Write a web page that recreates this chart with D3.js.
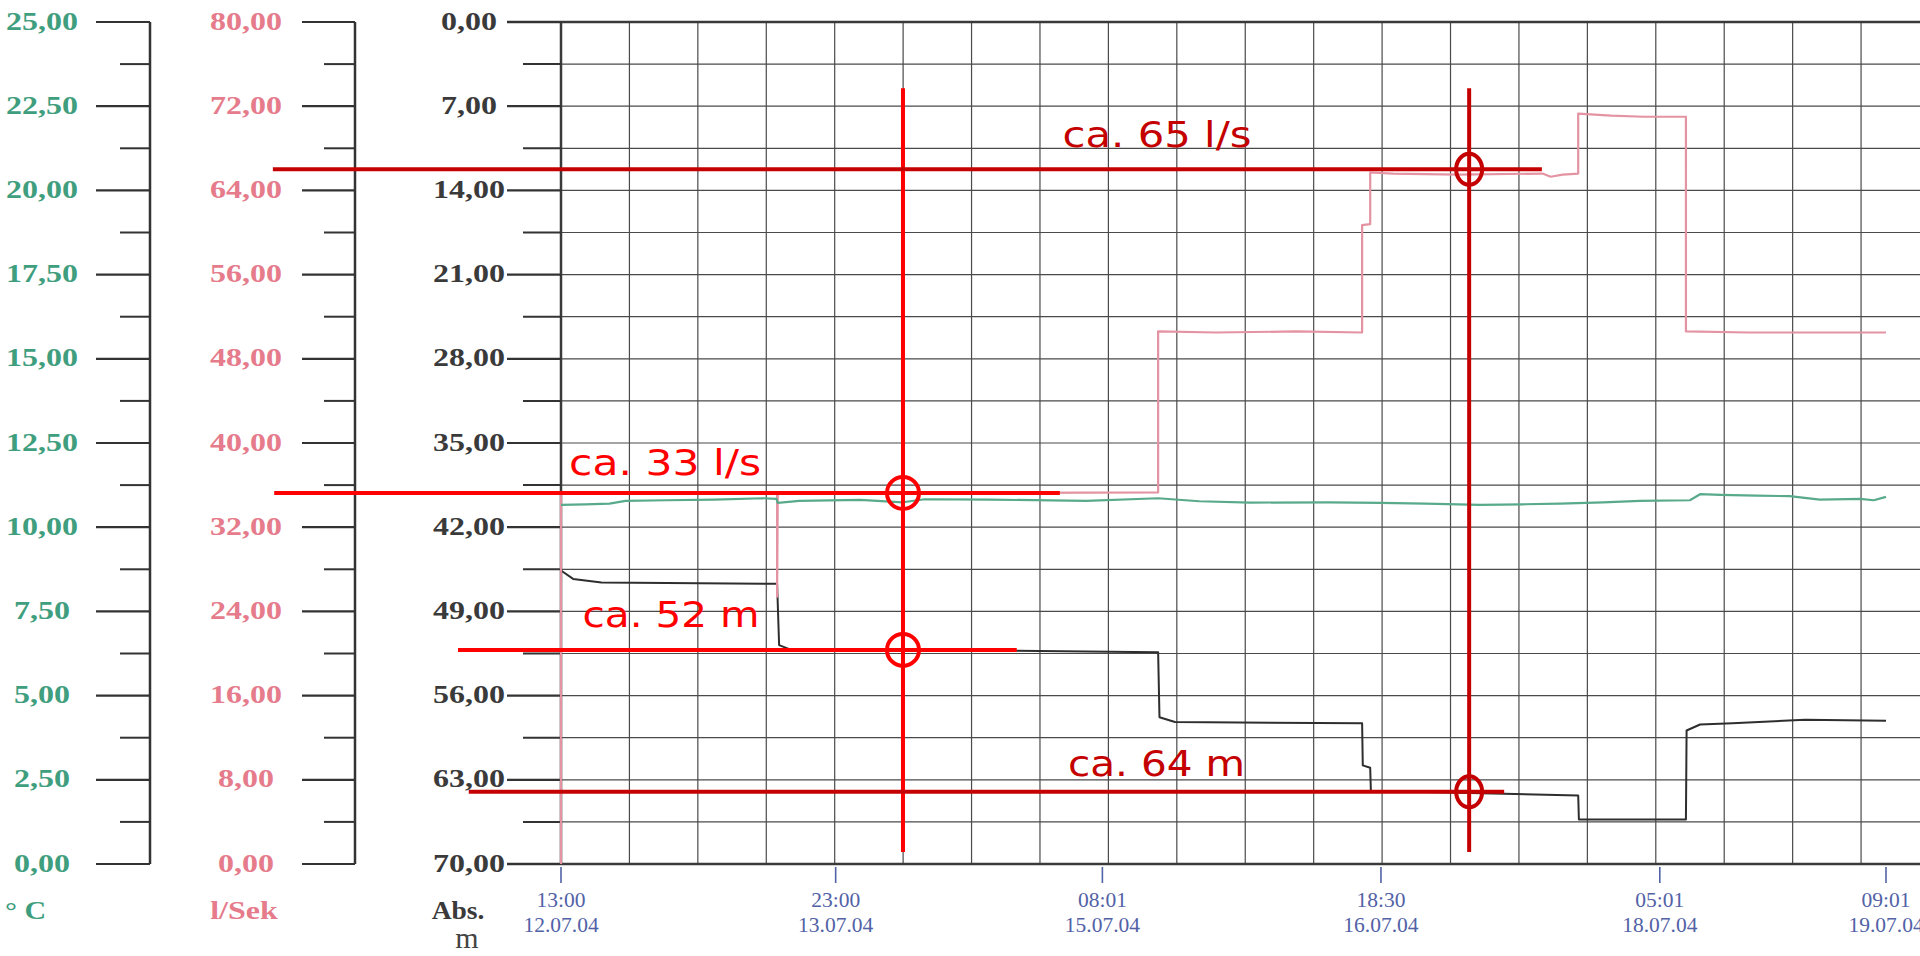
<!DOCTYPE html>
<html>
<head>
<meta charset="utf-8">
<script src="https://cdn.jsdelivr.net/npm/d3@7"></script>
<style>
  body { margin: 0; background: #fff; }
  svg { display: block; }
</style>
</head>
<body>
<svg id="chart" width="1920" height="956"></svg>
<script>
// Achsen-Beschriftung
const levelTicks = [0, 7, 14, 21, 28, 35, 42, 49, 56, 63, 70];          // Abs. m
const flowTicks = [0, 8, 16, 24, 32, 40, 48, 56, 64, 72, 80];           // l/Sek
const tempTicks = [0, 2.5, 5, 7.5, 10, 12.5, 15, 17.5, 20, 22.5, 25];   // °C
const timeTicks = ["12.07.04 13:00", "13.07.04 23:00", "15.07.04 08:01",
                   "16.07.04 18:30", "18.07.04 05:01", "19.07.04 09:01"];

// Temperatur (°C), gruen
const tempSeries = [
  ["12.07.04 13:00", 10.66], ["12.07.04 16:00", 10.68], ["12.07.04 19:00", 10.70],
  ["12.07.04 21:00", 10.78], ["13.07.04 02:00", 10.80], ["13.07.04 08:00", 10.82],
  ["13.07.04 14:00", 10.86], ["13.07.04 15:40", 10.84], ["13.07.04 15:50", 10.72],
  ["13.07.04 18:30", 10.78], ["14.07.04 02:00", 10.81], ["14.07.04 07:20", 10.74],
  ["14.07.04 10:00", 10.83], ["14.07.04 18:00", 10.82], ["15.07.04 06:00", 10.78],
  ["15.07.04 14:55", 10.86], ["15.07.04 20:00", 10.77], ["16.07.04 02:20", 10.73],
  ["16.07.04 12:00", 10.74], ["16.07.04 18:25", 10.72], ["17.07.04 00:00", 10.70],
  ["17.07.04 06:45", 10.66], ["17.07.04 12:00", 10.68], ["17.07.04 16:40", 10.70],
  ["17.07.04 22:00", 10.74], ["18.07.04 02:35", 10.78], ["18.07.04 08:45", 10.80],
  ["18.07.04 10:00", 10.98], ["18.07.04 12:30", 10.96], ["18.07.04 17:00", 10.94],
  ["18.07.04 21:05", 10.92], ["19.07.04 00:50", 10.82], ["19.07.04 05:50", 10.84],
  ["19.07.04 07:30", 10.80], ["19.07.04 09:01", 10.90]
];

// Durchfluss (l/s), rosa
const flowSeries = [
  ["12.07.04 13:00", 0], ["12.07.04 13:00", 35.2], ["13.07.04 15:45", 35.2],
  ["13.07.04 15:45", 25.4], ["13.07.04 15:50", 35.2], ["15.07.04 14:55", 35.3],
  ["15.07.04 14:55", 50.6], ["15.07.04 22:00", 50.5], ["16.07.04 08:00", 50.6],
  ["16.07.04 16:10", 50.5], ["16.07.04 16:10", 60.7], ["16.07.04 17:10", 60.8],
  ["16.07.04 17:10", 65.7], ["16.07.04 20:00", 65.6], ["17.07.04 04:00", 65.5],
  ["17.07.04 14:30", 65.6], ["17.07.04 15:30", 65.3], ["17.07.04 17:00", 65.5],
  ["17.07.04 18:55", 65.6], ["17.07.04 18:55", 71.3], ["17.07.04 23:00", 71.1],
  ["18.07.04 03:00", 71.0], ["18.07.04 08:15", 71.0], ["18.07.04 08:15", 50.6],
  ["18.07.04 16:00", 50.5], ["19.07.04 09:01", 50.5]
];

// Wasserspiegel (m unter Gelaende), schwarz
const levelSeries = [
  ["12.07.04 13:00", 45.6], ["12.07.04 14:30", 46.3], ["12.07.04 18:00", 46.6],
  ["13.07.04 15:45", 46.7], ["13.07.04 16:00", 51.8], ["13.07.04 17:30", 52.2],
  ["14.07.04 12:00", 52.2], ["15.07.04 14:55", 52.4], ["15.07.04 15:05", 57.8],
  ["15.07.04 17:00", 58.2], ["16.07.04 16:10", 58.3], ["16.07.04 16:15", 61.8],
  ["16.07.04 17:10", 62.0], ["16.07.04 17:15", 63.9], ["17.07.04 18:55", 64.3],
  ["17.07.04 19:00", 66.3], ["18.07.04 08:15", 66.3], ["18.07.04 08:20", 58.9],
  ["18.07.04 10:00", 58.4], ["18.07.04 14:00", 58.3], ["18.07.04 23:00", 58.0],
  ["19.07.04 09:01", 58.1]
];

// Ablesehilfen (rot)
const crossTimes = [
  { time: "14.07.04 07:20", from: 5.5, to: 69.0, tone: "bright" },
  { time: "17.07.04 05:25", from: 5.5, to: 69.0, tone: "dark" }
];
const readings = [
  { label: "ca. 65 l/s", axis: "flow", value: 66.0, from: "11.07.04 01:20", to: "17.07.04 14:25",
    at: "17.07.04 05:25", textTime: "15.07.04 03:05", textValue: 68.1, tone: "dark" },
  { label: "ca. 33 l/s", axis: "flow", value: 35.25, from: "11.07.04 01:30", to: "15.07.04 02:45",
    at: "14.07.04 07:20", textTime: "12.07.04 14:00", textValue: 36.96, tone: "bright" },
  { label: "ca. 52 m", axis: "level", value: 52.2, from: "12.07.04 00:15", to: "14.07.04 21:25",
    at: "14.07.04 07:20", textTime: "12.07.04 15:40", textValue: 50.3, tone: "bright" },
  { label: "ca. 64 m", axis: "level", value: 64.0, from: "12.07.04 01:35", to: "17.07.04 09:45",
    at: "17.07.04 05:25", textTime: "15.07.04 03:45", textValue: 62.7, tone: "dark" }
];

const tones = { bright: "#ff0000", dark: "#c40000" };
const textWidths = { "ca. 65 l/s": 189, "ca. 33 l/s": 192, "ca. 52 m": 177, "ca. 64 m": 177 };
const green = "#3f9e7e", pink = "#e57b8b", ink = "#333";
const gridHours = 8.47;

const parse = d3.timeParse("%d.%m.%y %H:%M");
const de = d3.formatLocale({ decimal: ",", thousands: ".", grouping: [3], currency: ["", " €"] });
const fmt = de.format(".2f");

const plot = { left: 561, right: 1920, top: 22, bottom: 864 };

const x = d3.scaleTime()
  .domain([parse(timeTicks[0]), parse(timeTicks[timeTicks.length - 1])])
  .range([plot.left, 1886]);
const yLevel = d3.scaleLinear().domain([0, 70]).range([plot.top, plot.bottom]);
const yFlow = d3.scaleLinear().domain([0, 80]).range([plot.bottom, plot.top]);
const yTemp = d3.scaleLinear().domain([0, 25]).range([plot.bottom, plot.top]);
const yOf = { level: yLevel, flow: yFlow };

const svg = d3.select("#chart");

// Raster
const grid = svg.append("g").attr("stroke", "#4a4a4a").attr("stroke-width", 1.2);
const t0 = parse(timeTicks[0]).getTime();
const gridTimes = d3.range(1, 30)
  .map(k => new Date(t0 + k * gridHours * 3600e3))
  .filter(d => x(d) < plot.right);
grid.selectAll("line.v").data(gridTimes).join("line")
  .attr("x1", d => x(d)).attr("x2", d => x(d))
  .attr("y1", plot.top).attr("y2", plot.bottom);
const levelMinor = d3.pairs(levelTicks).map(([a, b]) => (a + b) / 2);
const levelGrid = levelTicks.slice(1, -1).concat(levelMinor);
grid.selectAll("line.h").data(levelGrid).join("line")
  .attr("x1", plot.left).attr("x2", plot.right)
  .attr("y1", d => yLevel(d)).attr("y2", d => yLevel(d));

// Rahmen
const frame = svg.append("g").attr("stroke", "#3a3a3a").attr("stroke-width", 2.5);
frame.append("line").attr("x1", 507).attr("x2", plot.right).attr("y1", yLevel(0)).attr("y2", yLevel(0));
frame.append("line").attr("x1", 507).attr("x2", plot.right).attr("y1", yLevel(70)).attr("y2", yLevel(70));
frame.append("line").attr("x1", plot.left).attr("x2", plot.left).attr("y1", plot.top).attr("y2", plot.bottom);

// linke Skalen
function scaleColumn(ticks, scale, majorX, minorX, spineX, labelX, color, spine) {
  const g = svg.append("g");
  const minor = d3.pairs(ticks).map(([a, b]) => (a + b) / 2);
  g.selectAll("line.maj").data(ticks).join("line")
    .attr("x1", majorX).attr("x2", spineX)
    .attr("y1", d => scale(d)).attr("y2", d => scale(d))
    .attr("stroke", ink).attr("stroke-width", 2.2);
  g.selectAll("line.min").data(minor).join("line")
    .attr("x1", minorX).attr("x2", spineX)
    .attr("y1", d => scale(d)).attr("y2", d => scale(d))
    .attr("stroke", ink).attr("stroke-width", 2);
  if (spine) {
    g.append("line").attr("x1", spineX).attr("x2", spineX)
      .attr("y1", scale.range()[0]).attr("y2", scale.range()[1])
      .attr("stroke", ink).attr("stroke-width", 2.5);
  }
  g.selectAll("text").data(ticks).join("text")
    .attr("transform", d => `translate(${labelX},${scale(d) + 7.5}) scale(1.28,1)`)
    .attr("text-anchor", "middle")
    .attr("font-family", "Liberation Serif, serif")
    .attr("font-weight", "bold")
    .attr("font-size", 25)
    .attr("fill", color)
    .text(d => fmt(d));
}
scaleColumn(tempTicks, yTemp, 96, 120, 150, 42, green, true);
scaleColumn(flowTicks, yFlow, 302, 324, 355, 246, pink, true);
scaleColumn(levelTicks, yLevel, 507, 523, plot.left, 469, "#3a3a3a", false);

// Einheiten
const units = svg.append("g").attr("font-family", "Liberation Serif, serif").attr("font-weight", "bold").attr("font-size", 25);
units.append("text").attr("transform", "translate(5,919) scale(1.2,1)").attr("fill", green).text("° C");
units.append("text").attr("transform", "translate(244,919) scale(1.28,1)").attr("text-anchor", "middle").attr("fill", pink).text("l/Sek");
units.append("text").attr("transform", "translate(458,919) scale(1.1,1)").attr("text-anchor", "middle").attr("fill", "#3a3a3a").text("Abs.");
svg.append("text").attr("x", 467).attr("y", 948).attr("text-anchor", "middle")
  .attr("font-family", "Liberation Serif, serif").attr("font-size", 30).attr("fill", "#444").text("m");

// Zeitachse
const blue = "#5262a6";
const tg = svg.append("g").selectAll("g").data(timeTicks).join("g")
  .attr("transform", d => `translate(${x(parse(d))},0)`);
tg.append("line").attr("y1", plot.bottom + 3).attr("y2", plot.bottom + 19)
  .attr("stroke", blue).attr("stroke-width", 1.6);
const labelStyle = sel => sel.attr("text-anchor", "middle")
  .attr("font-family", "Liberation Serif, serif").attr("font-size", 21.5).attr("fill", blue);
tg.append("text").call(labelStyle).attr("y", 907).text(d => d.split(" ")[1]);
tg.append("text").call(labelStyle).attr("y", 932).text(d => d.split(" ")[0]);

// Messkurven
function drawSeries(data, scale, color, width) {
  svg.append("path").datum(data)
    .attr("fill", "none").attr("stroke", color).attr("stroke-width", width)
    .attr("stroke-linejoin", "round")
    .attr("d", d3.line().x(d => x(parse(d[0]))).y(d => scale(d[1])));
}
drawSeries(levelSeries, yLevel, "#2e2e2e", 2);
drawSeries(flowSeries, yFlow, "#e493a3", 2.2);
drawSeries(tempSeries, yTemp, "#58aa8b", 2.2);

// Ablesehilfen
const ann = svg.append("g");
ann.selectAll("line.cross").data(crossTimes).join("line")
  .attr("x1", d => x(parse(d.time))).attr("x2", d => x(parse(d.time)))
  .attr("y1", d => yLevel(d.from)).attr("y2", d => yLevel(d.to))
  .attr("stroke", d => tones[d.tone]).attr("stroke-width", 4);
ann.selectAll("line.read").data(readings).join("line")
  .attr("x1", d => x(parse(d.from))).attr("x2", d => x(parse(d.to)))
  .attr("y1", d => yOf[d.axis](d.value)).attr("y2", d => yOf[d.axis](d.value))
  .attr("stroke", d => tones[d.tone]).attr("stroke-width", 4);
ann.selectAll("ellipse").data(readings).join("ellipse")
  .attr("cx", d => x(parse(d.at))).attr("cy", d => yOf[d.axis](d.value))
  .attr("rx", d => d.tone === "dark" ? 13 : 16).attr("ry", d => d.tone === "dark" ? 15.5 : 16)
  .attr("fill", "none").attr("stroke", d => tones[d.tone]).attr("stroke-width", 4);
ann.selectAll("text").data(readings).join("text")
  .attr("x", d => x(parse(d.textTime))).attr("y", d => yOf[d.axis](d.textValue))
  .attr("font-family", "DejaVu Sans, sans-serif").attr("font-size", 35)
  .attr("textLength", d => textWidths[d.label]).attr("lengthAdjust", "spacingAndGlyphs")
  .attr("fill", d => tones[d.tone])
  .text(d => d.label);
</script>
</body>
</html>
